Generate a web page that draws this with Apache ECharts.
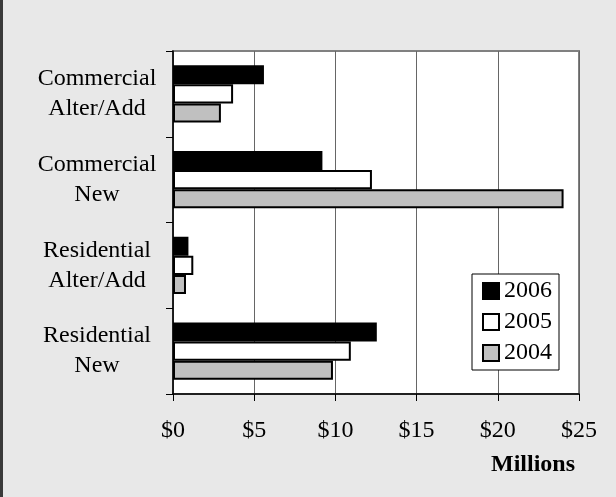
<!DOCTYPE html>
<html>
<head>
<meta charset="utf-8">
<script src="https://cdn.jsdelivr.net/npm/echarts@6/dist/echarts.min.js"></script>
<style>html,body{margin:0;padding:0;background:#e8e8e8;}#c{width:616px;height:497px;}</style>
</head>
<body>
<div id="c"></div>
<script>
var categories = ['Commercial\nAlter/Add', 'Commercial\nNew', 'Residential\nAlter/Add', 'Residential\nNew'];
var years = ['2006', '2005', '2004'];
var v2006 = [5.6, 9.2, 0.95, 12.55];
var v2005 = [3.7, 12.25, 1.25, 10.95];
var v2004 = [2.95, 24.05, 0.8, 9.85];
var xTicks = [0, 5, 10, 15, 20, 25];
var colors = {'2006': '#000000', '2005': '#ffffff', '2004': '#c0c0c0'};
var values = {'2006': v2006, '2005': v2005, '2004': v2004};

var font = 'Liberation Serif';
var chart = echarts.init(document.getElementById('c'));
chart.setOption({
  backgroundColor: '#e8e8e8',
  animation: false,
  grid: {left: 173, top: 51, right: 37, bottom: 103, show: true, backgroundColor: '#ffffff', borderColor: '#808080', borderWidth: 2},
  legend: {
    data: years, orient: 'vertical', left: 472, top: 274, icon: 'rect',
    backgroundColor: '#ffffff', borderColor: '#000000', borderWidth: 1,
    padding: [5, 7, 5, 10], itemWidth: 16, itemHeight: 16, itemGap: 7,
    textStyle: {fontFamily: font, fontSize: 24, color: '#000'}
  },
  xAxis: {
    type: 'value', min: xTicks[0], max: xTicks[xTicks.length - 1], interval: 5,
    axisLine: {show: true, lineStyle: {color: '#000', width: 1.5}},
    axisTick: {show: true, length: 7, lineStyle: {color: '#000', width: 1}},
    splitLine: {show: true, lineStyle: {color: '#666', width: 1}},
    axisLabel: {formatter: function (v) { return '$' + v; }, fontFamily: font, fontSize: 24, color: '#000', margin: 25}
  },
  yAxis: {
    type: 'category', data: categories, inverse: true,
    axisLine: {show: true, lineStyle: {color: '#000', width: 1.5}},
    axisTick: {show: true, length: 7, lineStyle: {color: '#000', width: 1}},
    axisLabel: {fontFamily: font, fontSize: 24, color: '#000', lineHeight: 30, align: 'center', margin: 76}
  },
  series: years.map(function (y) {
    return {
      name: y, type: 'bar', data: values[y], barGap: '0%', barCategoryGap: '33%',
      itemStyle: {color: colors[y], borderColor: '#000', borderWidth: 2}
    };
  }),
  graphic: [
    {type: 'rect', shape: {x: 0, y: 0, width: 3, height: 497}, style: {fill: '#3a3a3a'}},
    {type: 'text', left: 491, top: 453, style: {text: 'Millions', font: 'bold 24px "Liberation Serif"', fill: '#000'}}
  ]
});
</script>
</body>
</html>
